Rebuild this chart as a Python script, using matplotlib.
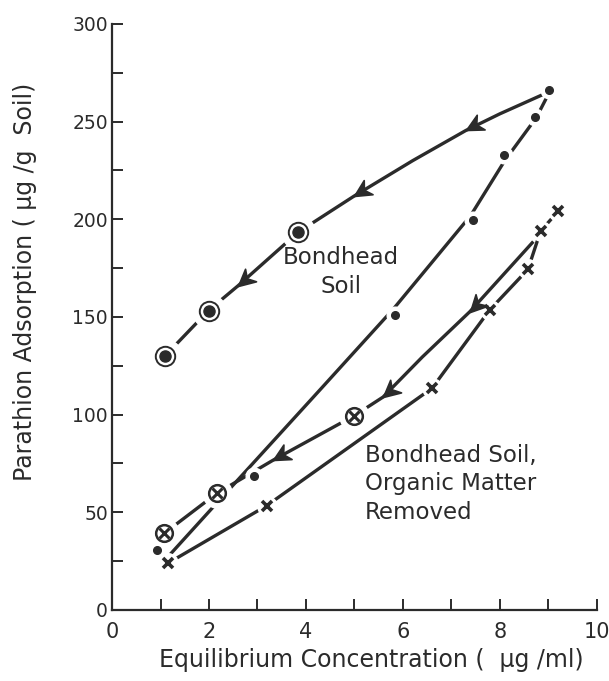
import matplotlib.pyplot as plt
import numpy as np
from matplotlib.markers import MarkerStyle
from matplotlib.path import Path
from matplotlib.transforms import Affine2D

plt.rcParams['font.family'] = ['DejaVu Sans']

ink = '#2b2b2b'

# Bondhead soil, adsorption (dots) and the drawn curve through them
bh_ads_x = [0.92, 2.93, 5.83, 7.45, 8.09, 8.72, 9.01]
bh_ads_y = [30.7, 68.8, 151, 199.7, 233, 252.6, 266]
bh_ads_cx = [1.2, 2.06, 2.5, 4.3, 5.8, 7.4, 8.1, 8.75, 9.0]
bh_ads_cy = [28.5, 52, 64, 113, 154, 202, 230, 252, 264]

# Bondhead soil, desorption (circled dots) and its curve
bh_des_x = [3.84, 1.99, 1.09]
bh_des_y = [193.4, 153.3, 130]
bh_des_cx = [8.9, 8.0, 7.3, 6.2, 5.0, 3.84, 2.6, 1.99, 1.09]
bh_des_cy = [264, 254, 245.5, 230, 212, 193.4, 166, 153.3, 130]
bh_arrows = [2, 4, 6]

# organic matter removed, adsorption (crosses)
om_ads_x = [1.15, 3.19, 6.6, 7.79, 8.58, 8.84, 9.2]
om_ads_y = [23.9, 53.4, 113.5, 153.6, 174.4, 194, 204]

# organic matter removed, desorption (circled crosses) and its curve
om_des_x = [5.0, 2.16, 1.08]
om_des_y = [99.5, 59.7, 39.3]
om_des_cx = [8.69, 7.38, 6.4, 5.59, 5.0, 3.33, 2.16, 1.08]
om_des_cy = [188.6, 152.7, 129.5, 109, 99.5, 76.8, 59.7, 39.3]
om_arrows = [1, 3, 5]

fig = plt.figure(figsize=(6.09, 6.81), dpi=100)
ax = fig.add_axes([0.184, 0.1043, 0.796, 0.8605])

lw = 2.4
ax.plot(bh_ads_cx, bh_ads_cy, color=ink, lw=lw, zorder=2, solid_capstyle='butt')
ax.plot(bh_des_cx, bh_des_cy, color=ink, lw=lw, zorder=2, solid_capstyle='butt')
ax.plot(om_ads_x, om_ads_y, color=ink, lw=lw, zorder=2, solid_capstyle='butt')
ax.plot(om_des_cx, om_des_cy, color=ink, lw=lw, zorder=2, solid_capstyle='butt')

# white halos make the gaps in the lines around each point
halo = dict(color='white', ls='none', zorder=3)
ax.plot(bh_ads_x, bh_ads_y, marker='o', ms=12, **halo)
ax.plot(bh_des_x, bh_des_y, marker='o', ms=24, **halo)
ax.plot(om_ads_x, om_ads_y, marker='o', ms=14, **halo)
ax.plot(om_des_x, om_des_y, marker='o', ms=21, **halo)

ax.plot(bh_ads_x, bh_ads_y, 'o', ms=5.5, color=ink, zorder=4)
ax.plot(bh_des_x, bh_des_y, 'o', ms=14, mfc='white', mec=ink, mew=1.4, zorder=4)
ax.plot(bh_des_x, bh_des_y, 'o', ms=8, color=ink, zorder=5)
ax.plot(om_ads_x, om_ads_y, 'x', ms=7, mew=2.6, color=ink, zorder=4)
ax.plot(om_des_x, om_des_y, 'o', ms=12, mfc='white', mec=ink, mew=1.8, zorder=4)
ax.plot(om_des_x, om_des_y, 'x', ms=7, mew=2.2, color=ink, zorder=5)

ax.set_xlim(0, 10)
ax.set_ylim(0, 300)
fig.canvas.draw()

# barbed arrow heads pointing along the curve
head = Path([(0, 0), (-1.0, 0.5), (-0.7, 0), (-1.0, -0.5), (0, 0)],
            [Path.MOVETO, Path.LINETO, Path.LINETO, Path.LINETO, Path.CLOSEPOLY])


def arrows(cx, cy, idx):
    pts = ax.transData.transform(np.column_stack([cx, cy]))
    for i in idx:
        d = pts[i + 1] - pts[i - 1]
        ang = np.degrees(np.arctan2(d[1], d[0]))
        m = MarkerStyle(head, transform=Affine2D().rotate_deg(ang))
        ax.plot(cx[i], cy[i], marker=m, ms=24, color=ink, mec=ink, mew=1.2,
                ls='none', zorder=6)


arrows(bh_des_cx, bh_des_cy, bh_arrows)
arrows(om_des_cx, om_des_cy, om_arrows)

ax.text(4.72, 173, 'Bondhead\nSoil', ha='center', va='center', fontsize=16.5,
        color=ink, linespacing=1.3)
ax.text(5.22, 64.5, 'Bondhead Soil,\nOrganic Matter\nRemoved', ha='left',
        va='center', fontsize=16.5, color=ink, linespacing=1.3)

for s in ['top', 'right']:
    ax.spines[s].set_visible(False)
for s in ['left', 'bottom']:
    ax.spines[s].set_linewidth(1.6)
    ax.spines[s].set_color(ink)

ax.set_xticks([0, 2, 4, 6, 8, 10])
ax.set_xticks(np.arange(0, 11, 1), minor=True)
ax.set_yticks(np.arange(0, 301, 50))
ax.set_yticks(np.arange(0, 301, 25), minor=True)
ax.tick_params(which='both', direction='in', length=8, width=1.4, color=ink,
               labelcolor=ink)
ax.tick_params(axis='x', labelsize=15, pad=9)
ax.tick_params(axis='y', labelsize=13.5, pad=3)

ax.set_xlabel('Equilibrium Concentration (  \u03bcg /ml)', fontsize=17, color=ink)
ax.xaxis.set_label_coords(0.535, -0.065)
ax.set_ylabel('Parathion Adsorption ( \u03bcg /g  Soil)', fontsize=17, color=ink)
ax.yaxis.set_label_coords(-0.155, 0.56)

fig.savefig('out.png', dpi=100)
